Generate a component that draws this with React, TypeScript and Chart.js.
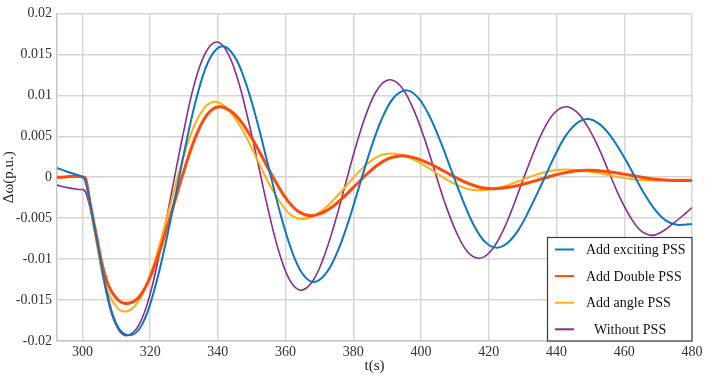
import React, { useEffect, useRef } from "react";
import { Chart, registerables } from "chart.js";

Chart.register(...registerables);

const seriesLabels = ["Add exciting PSS", "Add Double PSS", "Add angle PSS", "Without PSS"];
const seriesColors = ["#0a78c2", "#ff4a0a", "#ffb00f", "#8a2a94"];
const seriesWidths = [2, 3, 2, 1.6];

const xTicks = [300, 320, 340, 360, 380, 400, 420, 440, 460, 480];
const yTicks = [-0.02, -0.015, -0.01, -0.005, 0, 0.005, 0.01, 0.015, 0.02];
const yTickLabels = ["-0.02", "-0.015", "-0.01", "-0.005", "0", "0.005", "0.01", "0.015", "0.02"];

const tExciting = [292.5, 296, 300.1, 300.8, 302, 304.5, 307.2, 310.5, 314.2, 317.6, 321.0, 324.4, 327.75, 331.1, 334.5, 337.9, 341.3, 344.66, 348.0, 351.39, 354.75, 358.1, 361.5, 364.84, 368.2, 371.6, 375.0, 378.4, 381.75, 385.1, 388.5, 391.9, 395.3, 398.7, 402.05, 405.4, 408.8, 412.2, 415.5, 418.9, 422.3, 425.6, 428.97, 432.3, 435.65, 439.0, 442.3, 445.7, 449, 452.3, 455.65, 459.0, 462.3, 465.6, 468.95, 472.3, 475.6, 477.8, 480];
const vExciting = [0.00113, 0.0006, 0.0, -0.0004, -0.0025, -0.0082, -0.014, -0.0183, -0.0193, -0.018, -0.0141, -0.0084, -0.0017, 0.0051, 0.0109, 0.0147, 0.016, 0.0149, 0.0118, 0.0071, 0.0016, -0.0039, -0.0086, -0.0117, -0.0128, -0.0119, -0.0094, -0.0056, -0.0011, 0.0034, 0.0072, 0.0097, 0.0106, 0.0099, 0.0078, 0.0047, 0.001, -0.0027, -0.0058, -0.0079, -0.0086, -0.008, -0.0063, -0.0037, -0.0008, 0.0022, 0.0048, 0.0065, 0.0071, 0.0066, 0.0052, 0.0031, 0.0007, -0.0018, -0.0039, -0.0053, -0.0058, -0.0058, -0.0057];

const tDouble = [292.5, 300.5, 301.3, 302.2, 303.8, 307.05, 310.3, 313.6, 316.95, 320.3, 323.6, 326.95, 330.3, 333.6, 336.95, 340.3, 343.66, 347.0, 350.4, 353.75, 357.1, 360.5, 363.8, 367.2, 370.5, 373.85, 377.2, 380.5, 383.8, 387.15, 390.5, 393.8, 397.2, 400.6, 404.0, 407.4, 410.8, 414.2, 417.6, 421, 424.5, 428, 431.5, 435, 438.5, 442, 445.5, 449, 452.25, 455.5, 458.75, 462, 465.25, 468.5, 471.75, 475, 477.5, 480];
const vDouble = [0, 0, -0.0008, -0.003, -0.0064, -0.0125, -0.0149, -0.0154, -0.0145, -0.0119, -0.008, -0.0034, 0.0012, 0.0051, 0.0077, 0.0086, 0.0081, 0.0067, 0.0045, 0.00195, -0.0006, -0.0028, -0.0042, -0.0047, -0.0044, -0.0036, -0.0024, -0.00105, 0.0003, 0.0015, 0.0023, 0.0026, 0.00245, 0.002, 0.00136, 0.0006, -0.00016, -0.0008, -0.00125, -0.0014, -0.0013, -0.00107, -0.0007, -0.00028, 0.00015, 0.0005, 0.00076, 0.00085, 0.0008, 0.00067, 0.00046, 0.00023, -0.00001, -0.00022, -0.00035, -0.0004, -0.0004, -0.0004];

const tAngle = [292.5, 300.5, 301.3, 302.2, 303.7, 306.9, 310.0, 312.9, 316.1, 319.35, 322.6, 325.8, 329.0, 332.25, 335.5, 338.7, 341.96, 345.2, 348.5, 351.75, 355.0, 358.3, 361.5, 364.8, 368.05, 371.3, 374.55, 377.8, 381.05, 384.3, 387.55, 390.8, 394.1, 397.4, 400.7, 403.95, 407.2, 410.5, 413.8, 417.1, 420.3, 423.45, 426.6, 429.8, 433.0, 436.15, 439.3, 442.5, 445.7, 448.9, 452.1, 455.25, 458.4, 461.6, 464.8, 468, 474, 480];
const vAngle = [0, 0, -0.0009, -0.0032, -0.0068, -0.0133, -0.0158, -0.0164, -0.0154, -0.0127, -0.0085, -0.0036, 0.0013, 0.0055, 0.0082, 0.0092, 0.0087, 0.0071, 0.0048, 0.00205, -0.0007, -0.003, -0.0046, -0.0051, -0.0048, -0.0039, -0.0026, -0.0011, 0.0004, 0.0017, 0.0026, 0.0029, 0.00273, 0.00224, 0.0015, 0.00065, -0.0002, -0.00094, -0.00143, -0.0016, -0.0015, -0.00123, -0.00082, -0.00033, 0.00016, 0.00057, 0.00084, 0.00094, 0.00089, 0.00074, 0.00053, 0.00027, 0.00001, -0.0002, -0.00035, -0.0004, -0.00035, -0.0003];

const tWithout = [292.5, 296, 299, 300.6, 301.5, 302.5, 304, 306, 308.5, 311, 313.6, 316.85, 320.1, 323.3, 326.55, 329.8, 333.0, 336.25, 339.5, 342.6, 345.75, 348.9, 352.0, 355.1, 358.25, 361.4, 364.5, 367.8, 371.05, 374.3, 377.6, 380.9, 384.15, 387.4, 390.7, 394.0, 397.3, 400.6, 403.85, 407.1, 410.4, 413.7, 417, 420.2, 423.4, 426.6, 429.85, 433.1, 436.3, 439.5, 442.7, 445.86, 449.0, 452.2, 455.35, 458.5, 461.7, 464.8, 468, 471, 474, 477, 480];
const vWithout = [-0.00097, -0.0013, -0.0015, -0.0016, -0.0025, -0.0042, -0.0075, -0.012, -0.0165, -0.0188, -0.0193, -0.0179, -0.0141, -0.0082, -0.0014, 0.0054, 0.0113, 0.0151, 0.0165, 0.0154, 0.0121, 0.0071, 0.0014, -0.0044, -0.0094, -0.0127, -0.0138, -0.0128, -0.01, -0.0059, -0.00095, 0.004, 0.0081, 0.0109, 0.0119, 0.0111, 0.0087, 0.0052, 0.001, -0.0032, -0.0067, -0.0091, -0.0099, -0.0092, -0.0072, -0.0042, -0.0006, 0.0029, 0.0059, 0.0079, 0.0086, 0.008, 0.0063, 0.0038, 0.00075, -0.0023, -0.0048, -0.0065, -0.0071, -0.0067, -0.0058, -0.0048, -0.0037];

const seriesT = [tExciting, tDouble, tAngle, tWithout];
const seriesV = [vExciting, vDouble, vAngle, vWithout];
const legendIndent = [0, 0, 0, 8];

const SERIF = "'Liberation Serif', 'Times New Roman', serif";

const overlayPlugin = {
  id: "overlay",
  afterDraw(chart: any) {
    const ctx = chart.ctx;
    const area = chart.chartArea;
    ctx.save();
    ctx.fillStyle = "#222";
    ctx.font = `15px ${SERIF}`;
    ctx.textAlign = "center";
    ctx.textBaseline = "middle";
    ctx.fillText("t(s)", (area.left + area.right) / 2, 366);
    ctx.save();
    ctx.translate(9, (area.top + area.bottom) / 2);
    ctx.rotate(-Math.PI / 2);
    ctx.fillText("\u0394\u03c9(p.u.)", 0, 0);
    ctx.restore();
    const lx = 547.5, ly = 237.5, lw = area.right - 547.5, lh = area.bottom - 237.5;
    ctx.fillStyle = "#ffffff";
    ctx.fillRect(lx, ly, lw, lh);
    ctx.strokeStyle = "#3a3a3a";
    ctx.lineWidth = 1.2;
    ctx.strokeRect(lx, ly, lw, lh);
    const ds = chart.data.datasets;
    ctx.font = `14px ${SERIF}`;
    ctx.textAlign = "left";
    for (let i = 0; i < ds.length; i++) {
      const y = 249.5 + i * 26.6;
      ctx.strokeStyle = ds[i].borderColor;
      ctx.lineWidth = 2;
      ctx.beginPath();
      ctx.moveTo(555, y);
      ctx.lineTo(574, y);
      ctx.stroke();
      ctx.fillStyle = "#111";
      ctx.fillText(ds[i].label, 586 + legendIndent[i], y + 1);
    }
    ctx.restore();
  },
};

export default function App() {
  const ref = useRef<HTMLCanvasElement>(null);
  useEffect(() => {
    const canvas = ref.current;
    if (!canvas) return;
    const datasets = seriesLabels.map((label, i) => ({
      label,
      data: seriesT[i].map((t, j) => ({ x: t, y: seriesV[i][j] })),
      borderColor: seriesColors[i],
      backgroundColor: seriesColors[i],
      borderWidth: seriesWidths[i],
      pointRadius: 0,
      tension: 0.4,
      fill: false,
    }));
    const chart = new Chart(canvas, {
      type: "line",
      data: { datasets },
      plugins: [overlayPlugin],
      options: {
        responsive: false,
        animation: false,
        layout: { padding: { top: 5, right: 14, left: 0, bottom: 0 } },
        plugins: { legend: { display: false }, tooltip: { enabled: false } },
        scales: {
          x: {
            type: "linear",
            min: 292.5,
            max: 480,
            afterBuildTicks: (scale: any) => {
              scale.ticks = xTicks.map((v) => ({ value: v }));
            },
            afterFit: (scale: any) => {
              scale.height = 34;
            },
            ticks: {
              font: { family: SERIF, size: 14 },
              color: "#333",
              padding: 3,
              maxRotation: 0,
              callback: (v: any) => String(v),
            },
            grid: { color: "#d6d6d6", lineWidth: 1.5, drawTicks: false },
            border: { color: "#c8c8c8", width: 1.5 },
          },
          y: {
            min: -0.02,
            max: 0.02,
            afterBuildTicks: (scale: any) => {
              scale.ticks = yTicks.map((v) => ({ value: v }));
            },
            afterFit: (scale: any) => {
              scale.width = 57;
            },
            ticks: {
              font: { family: SERIF, size: 14 },
              color: "#333",
              padding: 5,
              callback: (v: any) => {
                const idx = yTicks.findIndex((t) => Math.abs(t - v) < 1e-9);
                return idx >= 0 ? yTickLabels[idx] : "";
              },
            },
            grid: { color: "#d6d6d6", lineWidth: 1.5, drawTicks: false },
            border: { color: "#c8c8c8", width: 1.5 },
          },
        },
      },
    });
    return () => chart.destroy();
  }, []);
  return (
    <div style={{ position: "fixed", left: 0, top: 0, width: 706, height: 375, background: "#fff" }}>
      <canvas ref={ref} width={706} height={375} style={{ display: "block" }} />
    </div>
  );
}
